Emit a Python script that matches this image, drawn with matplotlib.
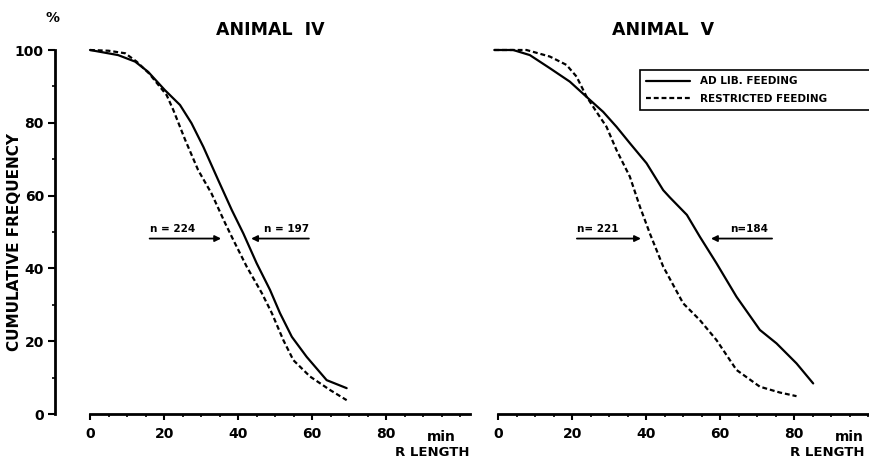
import matplotlib
matplotlib.use("Agg")
import matplotlib.pyplot as plt
from matplotlib.ticker import FixedLocator

plt.rcParams['font.family'] = ['DejaVu Sans']

# ---- data ----
x_iv_adlib = [0, 7.6, 12.2, 15.7, 20.2, 24.3, 27.4, 30.6, 34.6, 38.3, 41.4, 45, 48.6,
              51.3, 54.5, 58.5, 63.9, 69.3]
y_iv_adlib = [100, 98.6, 96.8, 94.0, 89.0, 84.9, 79.9, 73.4, 64.3, 56, 49.6, 41.4, 34.1,
              27.7, 21.2, 15.7, 9.3, 7.1]
x_iv_restr = [0, 5, 9.5, 12.6, 16, 20.7, 22.5, 25.7, 29.2, 32.8, 36.5, 38.7, 42.3, 46.4,
              49.1, 52.2, 54.9, 59.4, 64.8, 69.3]
y_iv_restr = [100, 99.8, 99.1, 96.8, 93.5, 87.6, 83.5, 75.3, 67.0, 60.6, 52.4, 47.8, 40.5,
              33.2, 27.7, 20.3, 14.8, 10.3, 6.6, 3.8]

x_v_adlib = [-1, 4.1, 8.6, 14, 19.4, 24.8, 28.4, 32, 35.6, 40.1, 44.6, 46.4, 51, 54.5, 59,
             64.4, 70.7, 75.2, 80.6, 85.1]
y_v_adlib = [100, 100, 98.6, 95, 91.3, 86.3, 83, 78.9, 74.4, 68.9, 61.5, 59.5, 54.7, 48.7,
             41.4, 32.2, 23.1, 19.4, 13.9, 8.4]
x_v_restr = [-1, 7.7, 14, 18.5, 21.2, 23.9, 26.6, 29.3, 32, 35.6, 38.3, 41, 44.6, 50, 54.5,
             59, 64.4, 70.7, 76.1, 80.6]
y_v_restr = [100, 100, 98.2, 95.9, 92.7, 87.2, 83, 78.9, 72.5, 65.2, 57, 49.6, 40.5, 30.4,
             25.8, 20.3, 12.1, 7.5, 5.9, 4.9]

titles = ["ANIMAL  IV", "ANIMAL  V"]
n_labels_iv = ["n = 224", "n = 197"]
n_labels_v = ["n= 221", "n=184"]
legend_labels = ["AD LIB. FEEDING", "RESTRICTED FEEDING"]
x_ticks = [0, 20, 40, 60, 80]
x_minor = list(range(0, 105, 5))
y_ticks = [0, 20, 40, 60, 80, 100]
y_minor = list(range(0, 101, 10))

W, H = 869, 461
fig = plt.figure(figsize=(W / 100, H / 100), dpi=100)


def rect(x0, x1, ytop, ybot):
    return [x0 / W, 1 - ybot / H, (x1 - x0) / W, (ybot - ytop) / H]


S = 0.27  # data units per pixel
ax1 = fig.add_axes(rect(55, 470, 50, 414))
ax1.set_xlim((55 - 90) * S, (470 - 90) * S)
ax2 = fig.add_axes(rect(492, 869, 50, 414))
ax2.set_xlim((492 - 498) * S, (869 - 498) * S)

dash = (0, (2.2, 1.3))
lw = 1.6
for ax in (ax1, ax2):
    ax.set_ylim(0, 100)
    ax.patch.set_alpha(0)
    for s in ('top', 'right'):
        ax.spines[s].set_visible(False)
    ax.spines['bottom'].set_linewidth(2)
    ax.xaxis.set_major_locator(FixedLocator(x_ticks))
    ax.xaxis.set_minor_locator(FixedLocator(x_minor))
    ax.tick_params(axis='x', which='major', direction='out', length=4, width=1.5,
                   labelsize=10, pad=5)
    ax.tick_params(axis='x', which='minor', direction='out', length=2.5, width=1.2)
    for lab in ax.get_xticklabels():
        lab.set_fontweight('bold')

ax1.spines['bottom'].set_bounds(0, (470 - 90) * S)
ax2.spines['bottom'].set_bounds(0, (869 - 498) * S)

ax1.spines['left'].set_linewidth(2)
ax1.spines['left'].set_bounds(0, 100)
ax1.yaxis.set_major_locator(FixedLocator(y_ticks))
ax1.yaxis.set_minor_locator(FixedLocator(y_minor))
ax1.tick_params(axis='y', which='major', direction='out', length=5, width=1.5,
                labelsize=10, pad=3)
ax1.tick_params(axis='y', which='minor', direction='out', length=2.5, width=1.2)
for lab in ax1.get_yticklabels():
    lab.set_fontweight('bold')

ax2.spines['left'].set_visible(False)
ax2.tick_params(axis='y', left=False, labelleft=False)

# curves
kw = dict(color='k', lw=lw, clip_on=False, solid_joinstyle='round', solid_capstyle='round')
ax1.plot(x_iv_adlib, y_iv_adlib, **kw)
ax1.plot(x_iv_restr, y_iv_restr, ls=dash, **kw)
l1, = ax2.plot(x_v_adlib, y_v_adlib, **kw)
l2, = ax2.plot(x_v_restr, y_v_restr, ls=dash, **kw)

# n annotations
ap = dict(arrowstyle='-|>', lw=1.3, color='k', mutation_scale=9, shrinkA=0, shrinkB=0)
ya = 48.2
yt = 50.9
tk = dict(fontsize=7.5, fontweight='bold', va='center')
ax1.annotate('', xy=(35.4, ya), xytext=(16.1, ya), arrowprops=ap)
ax1.text(16.1, yt, n_labels_iv[0], ha='left', **tk)
ax1.annotate('', xy=(43.5, ya), xytext=(59.1, ya), arrowprops=ap)
ax1.text(59.1, yt, n_labels_iv[1], ha='right', **tk)

ax2.annotate('', xy=(38.6, ya), xytext=(21.3, ya), arrowprops=ap)
ax2.text(21.3, yt, n_labels_v[0], ha='left', **tk)
ax2.annotate('', xy=(57.5, ya), xytext=(74.0, ya), arrowprops=ap)
ax2.text(73.0, yt, n_labels_v[1], ha='right', **tk)

# axis units / labels
for ax, rx in ((ax1, (470 - 90) * S), (ax2, (864 - 498) * S)):
    tr = ax.get_xaxis_transform()
    ax.text(94.8, -0.063, 'min', transform=tr, fontsize=10, fontweight='bold',
            ha='center', va='center')
    ax.text(rx, -0.106, 'R LENGTH', transform=tr, fontsize=9.5, fontweight='bold',
            ha='right', va='center')

fig.text(52 / W, 1 - 18 / H, '%', fontsize=10, fontweight='bold', ha='center', va='center')
fig.text(15 / W, 1 - 242 / H, 'CUMULATIVE FREQUENCY', rotation=90, fontsize=11,
         fontweight='bold', ha='center', va='center')
fig.text(270 / W, 1 - 30 / H, titles[0], fontsize=12.5, fontweight='bold',
         ha='center', va='center')
fig.text(663 / W, 1 - 30 / H, titles[1], fontsize=12.5, fontweight='bold',
         ha='center', va='center')

leg = ax2.legend([l1, l2], legend_labels, loc='upper left', mode='expand',
                 bbox_to_anchor=(640 / W, 1 - 113 / H, (885 - 640) / W, 43 / H),
                 bbox_transform=fig.transFigure, prop=dict(size=7.5, weight='bold'),
                 handlelength=4.2, handletextpad=1.0, borderpad=0.6, labelspacing=0.75,
                 fancybox=False, edgecolor='k', framealpha=1, borderaxespad=0)
leg.get_frame().set_linewidth(1.2)

fig.savefig('out.png', dpi=100)
